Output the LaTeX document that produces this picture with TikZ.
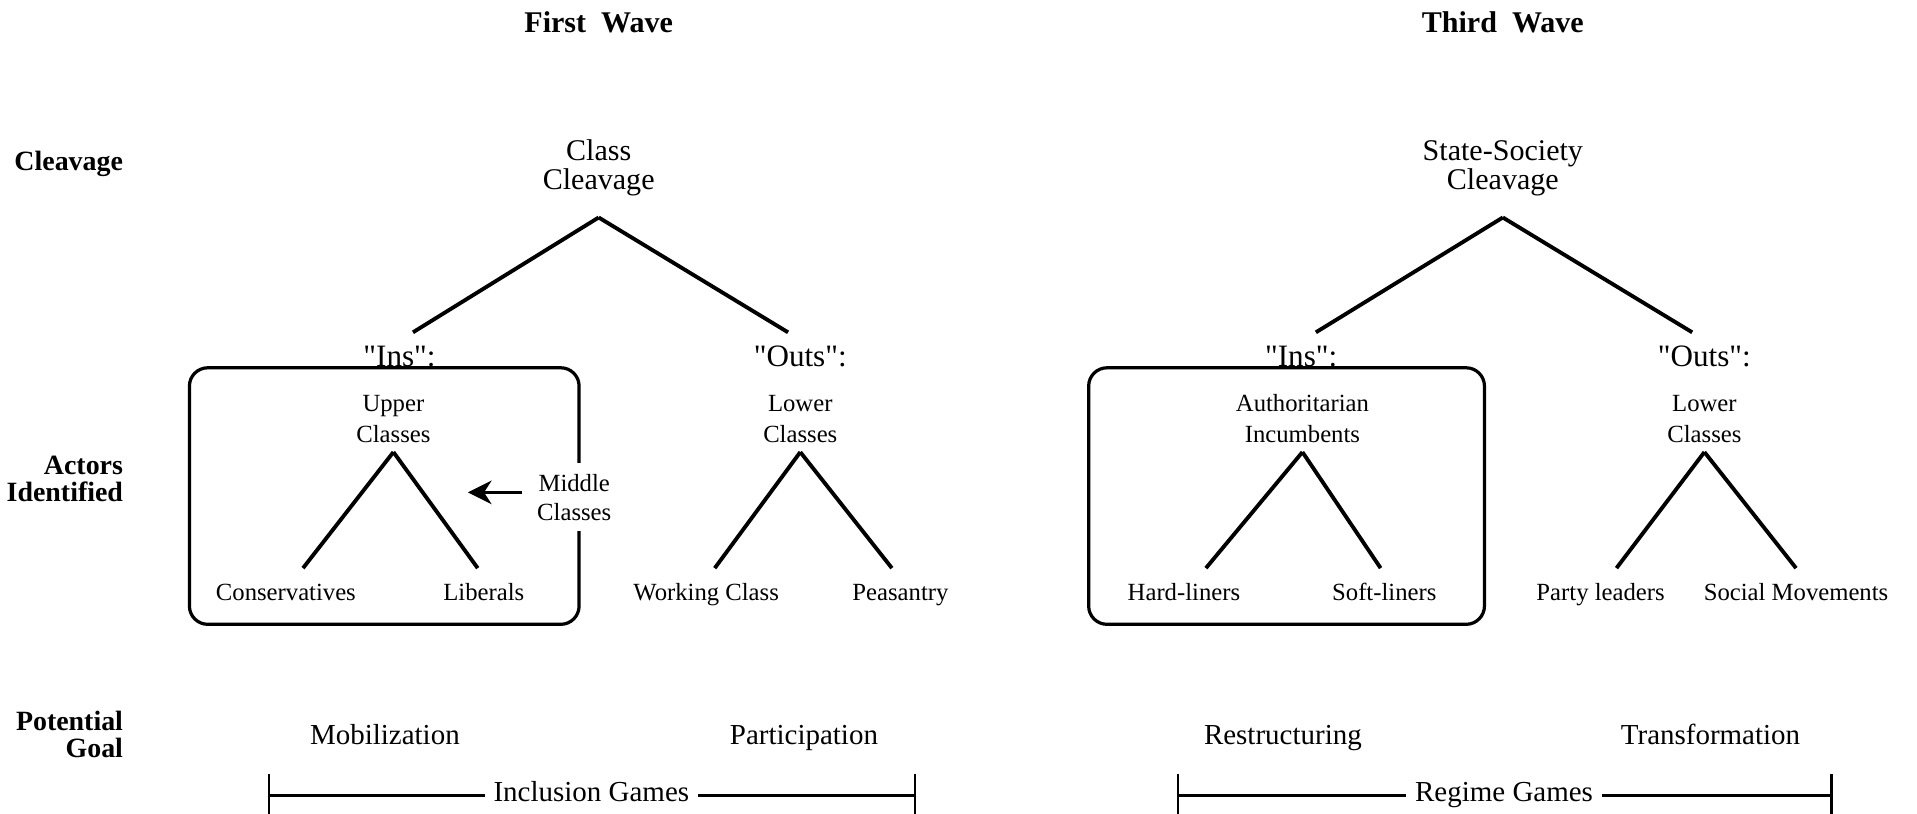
\documentclass[tikz,border=0pt]{standalone}
\usepackage{fontspec}
\setmainfont{Liberation Serif}
\newfontfamily\plainq{Liberation Serif}
\usepackage{tikz}
\usetikzlibrary{arrows.meta, positioning}

\tikzset{
  wave/.style={font=\fontsize{14}{16}\selectfont\bfseries, inner sep=0pt},
  rowlabel/.style={font=\fontsize{13}{12.5}\selectfont\bfseries, align=right, anchor=east, inner sep=0pt},
  cleave/.style={font=\fontsize{14}{13.6}\selectfont, align=center, inner sep=0pt, outer ysep=10pt, anchor=south},
  side/.style={font=\plainq\fontsize{14.5}{16}\selectfont, inner sep=0pt, outer ysep=6.5pt, anchor=north},
  actor/.style={font=\fontsize{11.5}{14.2}\selectfont, align=center, inner sep=0pt, outer ysep=4.5pt, anchor=south},
  leaf/.style={font=\fontsize{11.5}{14}\selectfont, inner sep=0pt, outer ysep=7pt, anchor=north, text height=8pt, text depth=2.5pt},
  goal/.style={font=\fontsize{13.5}{16}\selectfont, inner sep=0pt, text height=9pt, text depth=3pt},
  game/.style={font=\fontsize{13.5}{16}\selectfont, fill=white, inner xsep=4pt, inner ysep=1pt, text height=9pt, text depth=3pt},
  branch/.style={line width=1.8pt},
  camp/.style={draw, line width=1.5pt, rounded corners=0.3cm, minimum height=4.2cm},
  span/.style={line width=1.1pt}
}

\begin{document}
\begin{tikzpicture}[x=0.02cm, y=-0.02cm]
      \useasboundingbox (0,0) rectangle (1569,666);

      % Headings
      \node[wave] (first) at (490,18) {First\ \ Wave};
      \node[wave] (third) at (1230,18) {Third\ \ Wave};
      \node[rowlabel] (rowclv) at (101,134) {Cleavage};
      \node[rowlabel] (rowact) at (101,392) {Actors\\Identified};
      \node[rowlabel] (rowgoal) at (101,601) {Potential\\Goal};

      % First wave
      \node[cleave] (cc) at (490,178) {Class\\Cleavage};
      \node[side] (ins1) at (327,272) {"Ins":};
      \node[side] (outs1) at (655,272) {"Outs":};
      \draw[branch] (cc.south) -- ([xshift=0.22cm]ins1.north);
      \draw[branch] (cc.south) -- ([xshift=-0.2cm]outs1.north);

      \node[camp, minimum width=6.38cm] (insbox1) at (314.5,406) {};
      \node[actor] (upper) at (322,370) {Upper\\Classes};
      \node[leaf] (cons) at (234,465) {Conservatives};
      \node[leaf] (lib) at (396,465) {Liberals};
      \draw[branch] (upper.south) -- ([xshift=0.28cm]cons.north);
      \draw[branch] (upper.south) -- ([xshift=-0.1cm]lib.north);

      \node[font=\fontsize{11.5}{13.6}\selectfont, align=center, fill=white, inner xsep=2pt, inner ysep=5pt] (middle) at (470,407) {Middle\\Classes};
      \coordinate (midtip) at (383,403);
      \draw[-{Stealth[length=11pt, width=11pt, inset=3.5pt]}, line width=1.4pt, shorten <=5pt] (middle.west |- midtip) -- (midtip);

      \node[actor] (lower1) at (655,370) {Lower\\Classes};
      \node[leaf] (work) at (578,465) {Working Class};
      \node[leaf] (peas) at (737,465) {Peasantry};
      \draw[branch] (lower1.south) -- ([xshift=0.14cm]work.north);
      \draw[branch] (lower1.south) -- ([xshift=-0.14cm]peas.north);

      \node[goal] (mob) at (315,604) {Mobilization};
      \node[goal] (part) at (658,604) {Participation};
      \coordinate (inclL) at (219,651);
      \coordinate (inclR) at (750,651);
      \node[game] (incl) at (484,651) {Inclusion Games};
      \draw[span, {Bar[width=20pt]}-] (inclL) -- (incl.west);
      \draw[span, -{Bar[width=20pt]}] (incl.east) -- (inclR);

      % Third wave
      \node[cleave] (ssc) at (1230,178) {State-Society\\Cleavage};
      \node[side] (ins2) at (1065,272) {"Ins":};
      \node[side] (outs2) at (1395,272) {"Outs":};
      \draw[branch] (ssc.south) -- ([xshift=0.24cm]ins2.north);
      \draw[branch] (ssc.south) -- ([xshift=-0.2cm]outs2.north);

      \node[camp, minimum width=6.48cm] (insbox2) at (1053,406) {};
      \node[actor] (auth) at (1066,370) {Authoritarian\\Incumbents};
      \node[leaf] (hard) at (969,465) {Hard-liners};
      \node[leaf] (soft) at (1133,465) {Soft-liners};
      \draw[branch] (auth.south) -- ([xshift=0.36cm]hard.north);
      \draw[branch] (auth.south) -- ([xshift=-0.06cm]soft.north);

      \node[actor] (lower2) at (1395,370) {Lower\\Classes};
      \node[leaf] (party) at (1310,465) {Party leaders};
      \node[leaf] (social) at (1470,465) {Social Movements};
      \draw[branch] (lower2.south) -- ([xshift=0.26cm]party.north);
      \draw[branch] (lower2.south) -- (social.north);

      \node[goal] (restr) at (1050,604) {Restructuring};
      \node[goal] (trans) at (1400,604) {Transformation};
      \coordinate (regL) at (963,651);
      \coordinate (regR) at (1500,651);
      \node[game] (regime) at (1231,651) {Regime Games};
      \draw[span, {Bar[width=20pt]}-] (regL) -- (regime.west);
      \draw[span, -{Bar[width=20pt]}] (regime.east) -- (regR);
\end{tikzpicture}
\end{document}
